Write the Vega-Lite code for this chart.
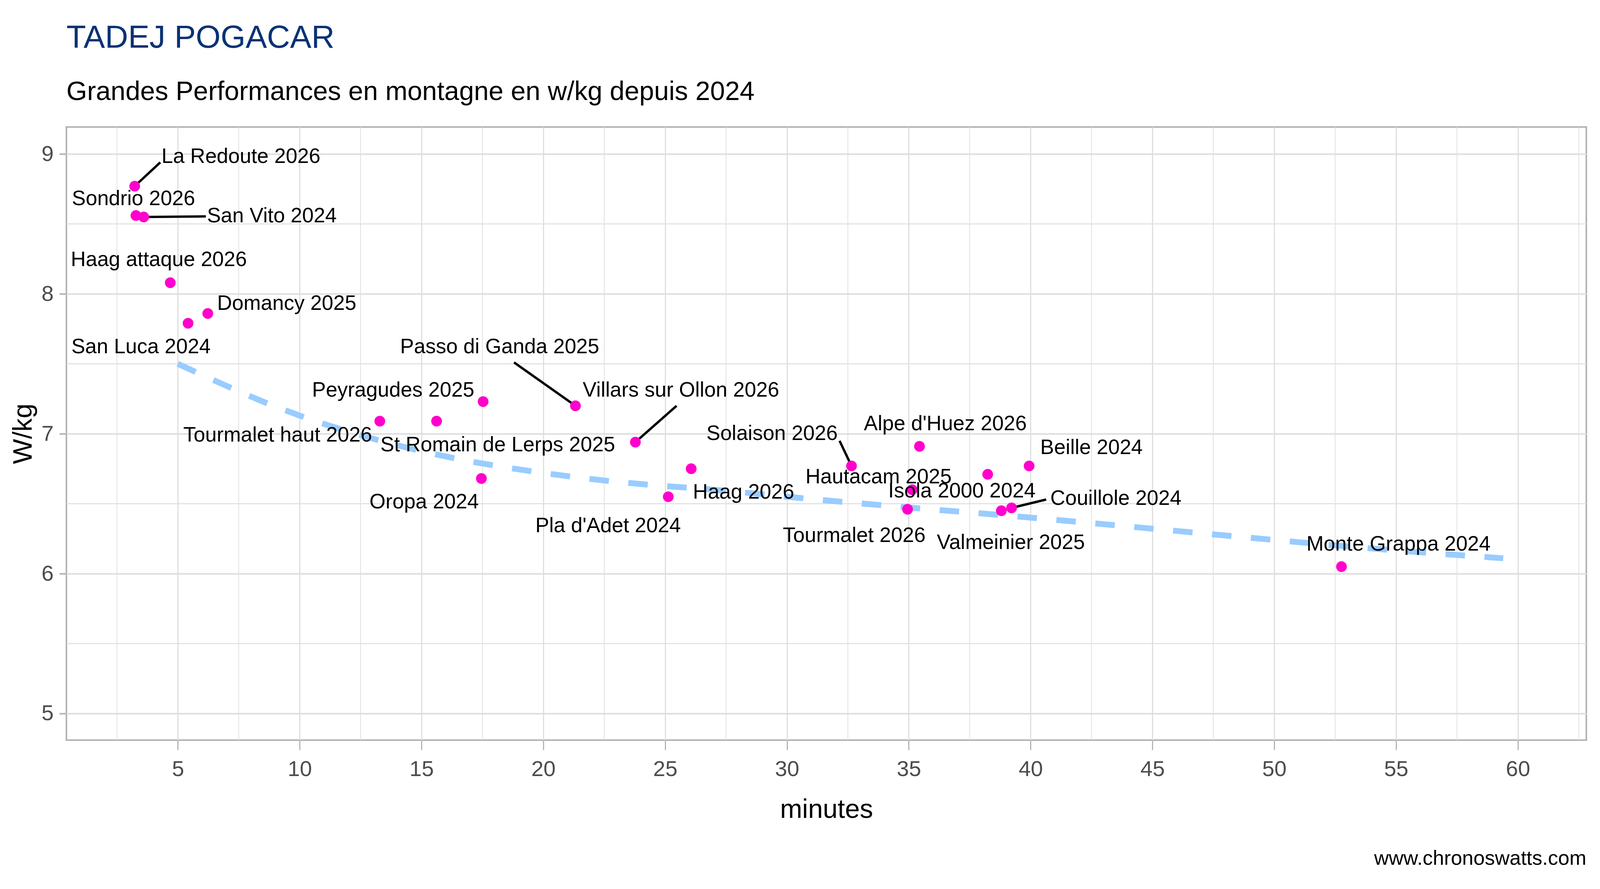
{
  "$schema": "https://vega.github.io/schema/vega-lite/v6.json",
  "autosize": "none",
  "padding": {"left": 170, "top": 325, "right": 35, "bottom": 381},
  "width": 3891,
  "height": 1569,
  "background": "white",
  "config": {
    "font": "Liberation Sans",
    "view": {"stroke": "#B3B3B3", "strokeWidth": 4},
    "axis": {
      "grid": true,
      "gridColor": "#DEDEDE",
      "domain": false,
      "tickColor": "#B3B3B3",
      "labelFontSize": 56,
      "labelColor": "#4D4D4D",
      "titleFontSize": 68,
      "titleFontWeight": "normal",
      "titleColor": "black"
    },
    "axisX": {"tickSize": 25, "tickWidth": 2.9, "gridWidth": 2.9},
    "axisY": {"tickSize": 18, "tickWidth": 4, "gridWidth": 4}
  },
  "title": {
    "text": "TADEJ POGACAR",
    "subtitle": "Grandes Performances en montagne en w/kg depuis 2024",
    "anchor": "start",
    "frame": "group",
    "fontSize": 82,
    "fontWeight": "normal",
    "color": "#073274",
    "subtitleFontSize": 68,
    "subtitleColor": "black",
    "subtitlePadding": 63,
    "offset": 53
  },
  "datasets": {
    "climbs": [
      {"name": "La Redoute 2026", "minutes": 3.23, "wkg": 8.77, "lx": 7.59, "ly": 8.98, "sx": 4.28, "sy": 8.94},
      {"name": "Sondrio 2026", "minutes": 3.28, "wkg": 8.56, "lx": 3.18, "ly": 8.68},
      {"name": "San Vito 2024", "minutes": 3.60, "wkg": 8.55, "lx": 8.86, "ly": 8.556, "sx": 6.15, "sy": 8.554},
      {"name": "Haag attaque 2026", "minutes": 4.69, "wkg": 8.08, "lx": 4.22, "ly": 8.244},
      {"name": "Domancy 2025", "minutes": 6.23, "wkg": 7.86, "lx": 9.47, "ly": 7.93},
      {"name": "San Luca 2024", "minutes": 5.42, "wkg": 7.79, "lx": 3.49, "ly": 7.62},
      {"name": "Tourmalet haut 2026", "minutes": 13.29, "wkg": 7.09, "lx": 9.1, "ly": 6.99},
      {"name": "Peyragudes 2025", "minutes": 15.62, "wkg": 7.09, "lx": 13.84, "ly": 7.31},
      {"name": "St Romain de Lerps 2025", "minutes": 17.53, "wkg": 7.23, "lx": 18.13, "ly": 6.92},
      {"name": "Passo di Ganda 2025", "minutes": 21.32, "wkg": 7.20, "lx": 18.21, "ly": 7.62, "sx": 18.80, "sy": 7.51},
      {"name": "Villars sur Ollon 2026", "minutes": 23.78, "wkg": 6.94, "lx": 25.65, "ly": 7.31, "sx": 25.47, "sy": 7.20},
      {"name": "Oropa 2024", "minutes": 17.46, "wkg": 6.68, "lx": 15.11, "ly": 6.51},
      {"name": "Pla d'Adet 2024", "minutes": 25.13, "wkg": 6.55, "lx": 22.66, "ly": 6.34},
      {"name": "Haag 2026", "minutes": 26.07, "wkg": 6.75, "lx": 28.22, "ly": 6.58},
      {"name": "Solaison 2026", "minutes": 32.65, "wkg": 6.77, "lx": 29.39, "ly": 7.00, "sx": 32.16, "sy": 6.95},
      {"name": "Alpe d'Huez 2026", "minutes": 35.44, "wkg": 6.91, "lx": 36.50, "ly": 7.07},
      {"name": "Hautacam 2025", "minutes": 35.14, "wkg": 6.60, "lx": 33.76, "ly": 6.69},
      {"name": "Tourmalet 2026", "minutes": 34.95, "wkg": 6.46, "lx": 32.76, "ly": 6.27},
      {"name": "Isola 2000 2024", "minutes": 38.24, "wkg": 6.71, "lx": 37.18, "ly": 6.59},
      {"name": "Beille 2024", "minutes": 39.94, "wkg": 6.77, "lx": 42.5, "ly": 6.90},
      {"name": "Valmeinier 2025", "minutes": 38.80, "wkg": 6.45, "lx": 39.19, "ly": 6.22},
      {"name": "Couillole 2024", "minutes": 39.22, "wkg": 6.47, "lx": 43.5, "ly": 6.535, "sx": 40.64, "sy": 6.53},
      {"name": "Monte Grappa 2024", "minutes": 52.76, "wkg": 6.05, "lx": 55.10, "ly": 6.21}
    ],
    "trend": [
      {"minutes": 5.0, "wkg": 7.50},
      {"minutes": 6.9, "wkg": 7.35},
      {"minutes": 8.5, "wkg": 7.23},
      {"minutes": 10.0, "wkg": 7.13},
      {"minutes": 12.5, "wkg": 6.99},
      {"minutes": 14.9, "wkg": 6.88},
      {"minutes": 16.5, "wkg": 6.82},
      {"minutes": 20.0, "wkg": 6.72},
      {"minutes": 24.7, "wkg": 6.63},
      {"minutes": 26.3, "wkg": 6.61},
      {"minutes": 31.2, "wkg": 6.53},
      {"minutes": 34.5, "wkg": 6.48},
      {"minutes": 38.7, "wkg": 6.42},
      {"minutes": 42.6, "wkg": 6.36},
      {"minutes": 45.7, "wkg": 6.31},
      {"minutes": 48.8, "wkg": 6.26},
      {"minutes": 54.0, "wkg": 6.18},
      {"minutes": 59.4, "wkg": 6.11}
    ],
    "minor_x": [
      {"minutes": 2.5}, {"minutes": 7.5}, {"minutes": 12.5}, {"minutes": 17.5}, {"minutes": 22.5},
      {"minutes": 27.5}, {"minutes": 32.5}, {"minutes": 37.5}, {"minutes": 42.5}, {"minutes": 47.5},
      {"minutes": 52.5}, {"minutes": 57.5}, {"minutes": 62.5}
    ],
    "minor_y": [
      {"wkg": 5.5}, {"wkg": 6.5}, {"wkg": 7.5}, {"wkg": 8.5}
    ],
    "caption": [
      {"text": "www.chronoswatts.com"}
    ]
  },
  "layer": [
    {
      "data": {"name": "minor_x"},
      "mark": {"type": "rule", "color": "#DEDEDE", "strokeWidth": 1.8},
      "encoding": {
        "x": {"field": "minutes", "type": "quantitative", "title": "minutes", "scale": {"domain": [0.427, 62.81], "nice": false, "zero": false}}
      }
    },
    {
      "data": {"name": "minor_y"},
      "mark": {"type": "rule", "color": "#DEDEDE", "strokeWidth": 2.5},
      "encoding": {
        "y": {"field": "wkg", "type": "quantitative", "title": "W/kg", "scale": {"domain": [4.81, 9.193], "nice": false, "zero": false}}
      }
    },
    {
      "data": {"name": "trend"},
      "mark": {"type": "line", "color": "#99CCFF", "strokeWidth": 15, "strokeDash": [50, 50], "strokeCap": "butt", "interpolate": "monotone"},
      "encoding": {
        "x": {"field": "minutes", "type": "quantitative", "title": "minutes", "scale": {"domain": [0.427, 62.81], "nice": false, "zero": false}},
        "y": {"field": "wkg", "type": "quantitative", "title": "W/kg", "scale": {"domain": [4.81, 9.193], "nice": false, "zero": false}}
      }
    },
    {
      "data": {"name": "climbs"},
      "transform": [{"filter": "isValid(datum.sx)"}],
      "mark": {"type": "rule", "color": "black", "strokeWidth": 6},
      "encoding": {
        "x": {"field": "minutes", "type": "quantitative", "title": "minutes", "scale": {"domain": [0.427, 62.81], "nice": false, "zero": false}},
        "y": {"field": "wkg", "type": "quantitative", "title": "W/kg", "scale": {"domain": [4.81, 9.193], "nice": false, "zero": false}},
        "x2": {"field": "sx"},
        "y2": {"field": "sy"}
      }
    },
    {
      "data": {"name": "climbs"},
      "mark": {"type": "circle", "color": "#FF00CC", "opacity": 1, "size": 755},
      "encoding": {
        "x": {
          "field": "minutes", "type": "quantitative", "title": "minutes",
          "scale": {"domain": [0.427, 62.81], "nice": false, "zero": false},
          "axis": {"values": [5, 10, 15, 20, 25, 30, 35, 40, 45, 50, 55, 60], "format": "d", "title": "minutes", "labelPadding": 22, "titlePadding": 42}
        },
        "y": {
          "field": "wkg", "type": "quantitative", "title": "W/kg",
          "scale": {"domain": [4.81, 9.193], "nice": false, "zero": false},
          "axis": {"values": [5, 6, 7, 8, 9], "format": "d", "title": "W/kg", "labelPadding": 15, "titlePadding": 11}
        },
        "tooltip": [{"field": "name"}, {"field": "minutes"}, {"field": "wkg"}]
      }
    },
    {
      "data": {"name": "climbs"},
      "mark": {"type": "text", "align": "center", "baseline": "middle", "fontSize": 53, "color": "black"},
      "encoding": {
        "x": {"field": "lx", "type": "quantitative", "title": "minutes", "scale": {"domain": [0.427, 62.81], "nice": false, "zero": false}},
        "y": {"field": "ly", "type": "quantitative", "title": "W/kg", "scale": {"domain": [4.81, 9.193], "nice": false, "zero": false}},
        "text": {"field": "name"}
      }
    },
    {
      "data": {"name": "caption"},
      "mark": {"type": "text", "align": "right", "baseline": "alphabetic", "fontSize": 52, "color": "black"},
      "encoding": {
        "x": {"datum": 62.81, "type": "quantitative", "title": "minutes", "scale": {"domain": [0.427, 62.81], "nice": false, "zero": false}},
        "y": {"datum": 3.92, "type": "quantitative", "title": "W/kg", "scale": {"domain": [4.81, 9.193], "nice": false, "zero": false}},
        "text": {"field": "text"}
      }
    }
  ]
}
